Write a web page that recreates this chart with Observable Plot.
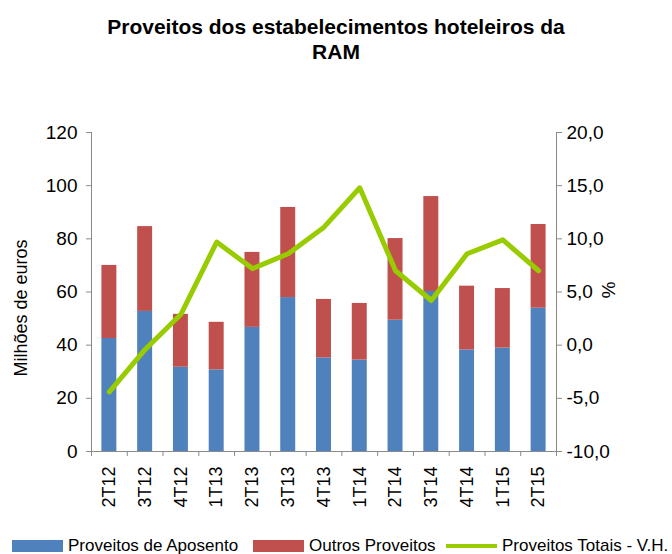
<!DOCTYPE html>
<html><head><meta charset="utf-8">
<script src="https://cdn.jsdelivr.net/npm/d3@7"></script>
<script src="https://cdn.jsdelivr.net/npm/@observablehq/plot@0.6"></script>
<style>
body{margin:0;background:#fff;font-family:"Liberation Sans",Arial,sans-serif;width:672px;height:554px;overflow:hidden;position:relative;}
#title{height:70px;box-sizing:border-box;padding-top:14px;text-align:center;font-weight:bold;font-size:21px;line-height:25px;color:#000;}
#legend{position:absolute;top:535px;left:0;width:672px;height:30px;font-size:17px;color:#000;}
#legend .it{position:absolute;top:0;display:flex;align-items:center;height:22px;}
#legend .sw{width:51px;height:12px;margin-right:5px;}
#legend .ln{width:51px;height:4px;margin-right:5px;}
</style></head>
<body>
<div id="title">Proveitos dos estabelecimentos hoteleiros da<br>RAM</div>
<div id="chart"></div>
<div id="legend"></div>
<script>
const categories = ["2T12","3T12","4T12","1T13","2T13","3T13","4T13","1T14","2T14","3T14","4T14","1T15","2T15"];
const aposento = [42.5, 52.7, 31.7, 30.7, 46.7, 57.9, 35.2, 34.4, 49.4, 60.2, 38.2, 38.9, 53.9];
const outros   = [27.5, 31.9, 19.9, 17.9, 28.2, 33.9, 22.0, 21.3, 30.7, 35.7, 24.0, 22.4, 31.5];
const vhTotais = [-4.4, -0.4, 2.9, 9.7, 7.2, 8.6, 11.1, 14.8, 7.0, 4.2, 8.6, 9.9, 7.0];
const seriesNames = ["Proveitos de Aposento", "Outros Proveitos", "Proveitos Totais - V.H."];
const colors = ["#4F81BD", "#C0504D", "#99CC00"];
const leftTicks = [0, 20, 40, 60, 80, 100, 120];
const pctTicks = [-10, -5, 0, 5, 10, 15, 20];
const leftLabel = "Milhões de euros";
const rightLabel = "%";

// map % (right axis, -10..20) onto left axis (0..120)
const pctMin = -10, pctMax = 20, leftMin = 0, leftMax = 120;
const toLeft = p => leftMin + (p - pctMin) * (leftMax - leftMin) / (pctMax - pctMin);
const fromLeft = v => pctMin + (v - leftMin) * (pctMax - pctMin) / (leftMax - leftMin);
const fmtPct = p => p.toFixed(1).replace(".", ",");

const rects = [];
categories.forEach((c, i) => {
  rects.push({i, series: seriesNames[0], y1: 0, y2: aposento[i]});
  rects.push({i, series: seriesNames[1], y1: aposento[i], y2: aposento[i] + outros[i]});
});
const linePts = categories.map((c, i) => ({i, v: toLeft(vhTotais[i])}));
const n = categories.length;
const centers = d3.range(n);
const bounds = d3.range(n + 1).map(k => k - 0.5);
const axisGray = "#8a8a8a";

const chart = Plot.plot({
  width: 672,
  height: 470,
  marginTop: 62,
  marginBottom: 89,
  marginLeft: 91,
  marginRight: 116,
  style: {fontFamily: "'Liberation Sans', Arial, sans-serif", fontSize: "19px", color: "#000", background: "#fff"},
  x: {domain: [-0.5, n - 0.5]},
  y: {domain: [leftMin, leftMax]},
  color: {domain: seriesNames, range: colors},
  marks: [
    Plot.rectY(rects, {x1: d => d.i - 0.5, x2: d => d.i + 0.5, y1: "y1", y2: "y2", fill: "series", insetLeft: 10.4, insetRight: 10.4}),
    Plot.ruleX([bounds[0], bounds[n]], {y1: leftMin, y2: leftMax, stroke: axisGray}),
    Plot.ruleY([leftMin], {stroke: axisGray}),
    Plot.line(linePts, {x: "i", y: "v", stroke: colors[2], strokeWidth: 5}),
    Plot.axisY({anchor: "left", ticks: leftTicks, tickSize: 5, tickPadding: 9, stroke: axisGray, fill: "#000", label: null, fontSize: 19}),
    Plot.axisY({anchor: "right", ticks: pctTicks.map(toLeft), tickFormat: d => fmtPct(fromLeft(d)), tickSize: 5, tickPadding: 5,
      stroke: axisGray, fill: "#000", label: null, fontSize: 19}),
    Plot.axisX({ticks: bounds, tickFormat: () => "", tickSize: 5, stroke: axisGray, label: null}),
    Plot.axisX({ticks: centers, tickFormat: i => categories[i], tickSize: 0, tickPadding: 15, tickRotate: -90, fill: "#000", label: null, fontSize: 18}),
    Plot.text([leftLabel], {frameAnchor: "left", textAnchor: "middle", rotate: -90, dx: -70, dy: 16, fontSize: 18, fill: "#000"}),
    Plot.text([rightLabel], {frameAnchor: "right", textAnchor: "middle", rotate: 90, dx: 52, dy: -2, fontSize: 19, fill: "#000"})
  ]
});
document.getElementById("chart").appendChild(chart);

const legend = document.getElementById("legend");
const lx = [12, 253, 446];
seriesNames.forEach((s, k) => {
  const it = document.createElement("div");
  it.className = "it";
  it.style.left = lx[k] + "px";
  const sw = document.createElement("div");
  sw.className = k < 2 ? "sw" : "ln";
  sw.style.background = colors[k];
  const t = document.createElement("span");
  t.textContent = s;
  it.appendChild(sw); it.appendChild(t);
  legend.appendChild(it);
});
</script>
</body></html>
